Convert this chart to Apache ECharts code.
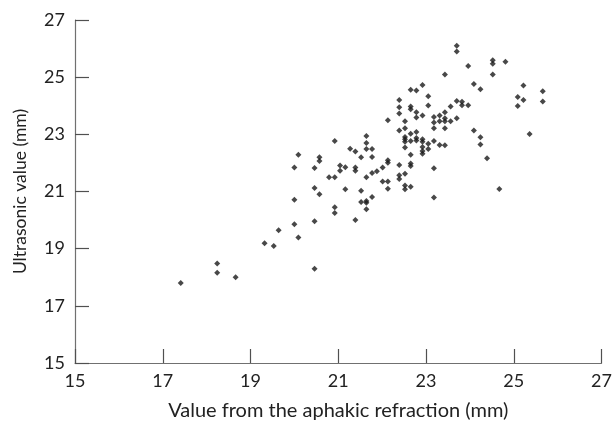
<!DOCTYPE html>
<html><head><meta charset="utf-8">
<script src="https://cdn.jsdelivr.net/npm/echarts@6/dist/echarts.min.js"></script>
<style>html,body{margin:0;padding:0;background:#fff}#c{width:615px;height:426px}</style>
</head><body><div id="c"></div>
<script>
const xTicks = [15, 17, 19, 21, 23, 25, 27];
const yTicks = [15, 17, 19, 21, 23, 25, 27];
const xValues = [
17.41,18.24,18.24,18.66,19.32,19.53,19.64,20.0,20.09,20.0,20.0,20.09,20.46,20.46,20.46,20.46,20.57,20.57,20.57,20.92,
20.79,20.92,20.92,20.92,21.04,21.04,21.16,21.16,21.27,21.39,21.39,21.39,21.39,21.52,21.52,21.52,21.64,21.64,21.64,21.64,
21.64,21.64,21.64,21.77,21.77,21.77,21.77,21.88,22.01,22.01,22.13,22.13,22.13,22.13,22.13,22.39,22.39,22.39,22.39,22.39,
22.39,22.39,22.52,22.52,22.52,22.52,22.52,22.52,22.52,22.52,22.52,22.65,22.65,22.65,22.65,22.65,22.65,22.65,22.65,22.65,
22.78,22.78,22.78,22.78,22.78,22.78,22.92,22.92,22.92,22.92,22.92,22.92,22.92,23.05,23.05,23.05,23.05,23.18,23.18,23.18,
23.18,23.18,23.18,23.31,23.31,23.31,23.43,23.43,23.43,23.43,23.43,23.43,23.56,23.56,23.70,23.70,23.70,23.70,23.82,23.82,
23.96,23.96,24.09,24.09,24.24,24.24,24.24,24.39,24.52,24.52,24.52,24.67,24.81,25.09,25.09,25.22,25.22,25.36,25.66,25.66
];
const yValues = [
17.80,18.48,18.16,18.00,19.19,19.09,19.64,19.85,19.39,20.71,21.84,22.29,19.96,18.30,21.12,21.82,20.90,22.20,22.07,22.77,
21.50,21.50,20.45,20.25,21.91,21.73,21.85,21.08,22.50,22.40,21.84,21.73,20.00,22.20,21.03,20.63,22.94,22.70,22.49,21.50,
20.67,20.61,20.38,22.49,22.21,21.65,20.81,21.71,21.84,21.35,22.09,22.01,21.35,21.10,23.49,24.20,23.95,23.73,23.13,21.93,
21.57,21.44,23.46,23.21,22.91,22.83,22.74,22.54,21.62,21.21,21.08,24.56,23.97,23.88,23.02,22.77,22.29,21.98,21.89,21.17,
24.53,23.77,23.59,23.08,22.87,22.78,24.73,23.66,22.83,22.74,22.56,22.42,22.32,24.33,24.01,22.67,22.49,23.61,23.41,23.21,
22.77,21.81,20.79,23.66,23.46,22.63,25.09,23.77,23.56,23.46,23.21,22.62,23.97,23.46,26.10,25.90,24.17,23.56,24.14,24.02,
25.39,24.02,24.76,23.13,24.58,22.90,22.64,22.16,25.59,25.47,25.09,21.09,25.54,24.31,23.99,24.71,24.20,23.01,24.51,24.15
];
const xName = 'Value from the aphakic refraction (mm)';
const yName = 'Ultrasonic value (mm)';

const pts = xValues.map((x, i) => [x, yValues[i]]);
const font = 'Lato, "Noto Sans", sans-serif';
const axisCommon = {
  type: 'value', min: xTicks[0], max: xTicks[xTicks.length - 1], interval: 2,
  splitLine: { show: false },
  axisLine: { lineStyle: { color: '#707070', width: 1.2 } },
  axisTick: { inside: true, length: 14, lineStyle: { color: '#505050', width: 1.2 } },
  axisLabel: { color: '#222', fontSize: 18, fontFamily: font, margin: 9 },
  nameLocation: 'middle'
};
const chart = echarts.init(document.getElementById('c'), null, { renderer: 'canvas' });
chart.setOption({
  animation: false,
  backgroundColor: '#fff',
  grid: { left: 75, right: 7, top: 20, bottom: 49, containLabel: false },
  xAxis: Object.assign({}, axisCommon, {
    name: xName, nameGap: 38,
    nameTextStyle: { color: '#222', fontSize: 20, fontFamily: font }
  }),
  yAxis: Object.assign({}, axisCommon, {
    min: yTicks[0], max: yTicks[yTicks.length - 1], name: yName, nameGap: 46,
    axisLabel: { color: '#222', fontSize: 18, fontFamily: font, margin: 10 },
    nameTextStyle: { color: '#222', fontSize: 17.5, fontFamily: font }
  }),
  series: [{
    type: 'scatter', data: pts, symbol: 'diamond', symbolSize: 6,
    itemStyle: { color: '#1a1a1a' }
  }]
});
</script></body></html>
